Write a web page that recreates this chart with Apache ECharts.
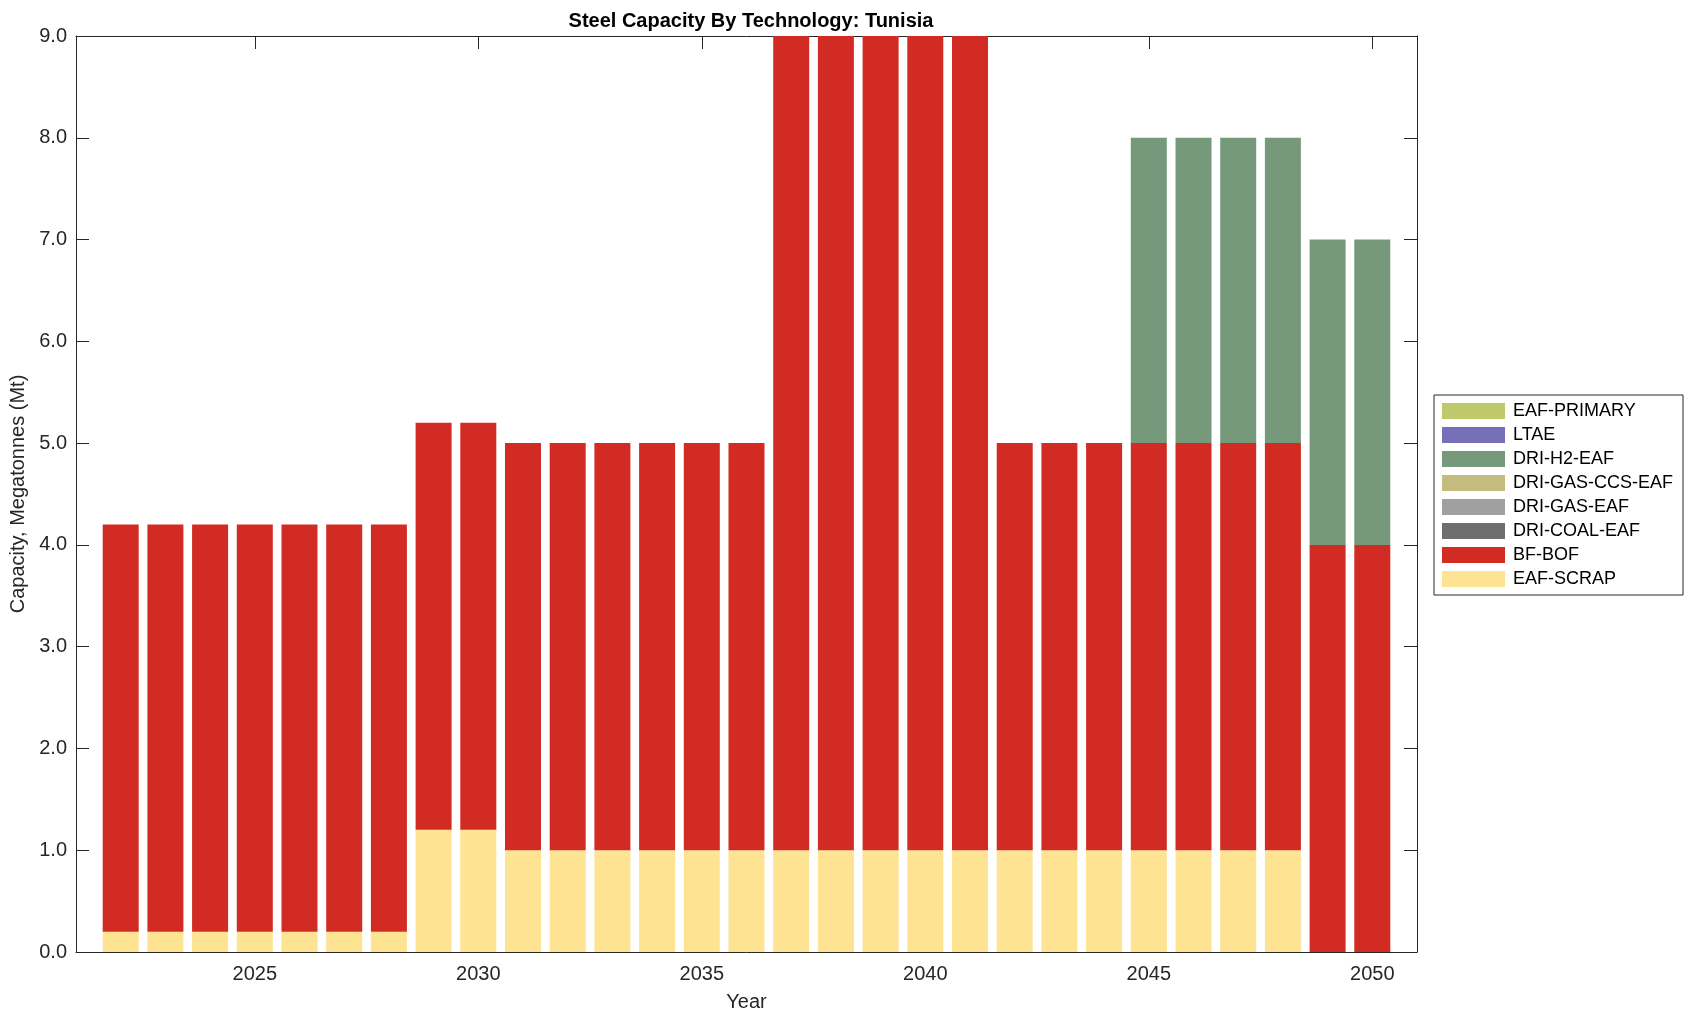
<!DOCTYPE html>
<html>
<head>
<meta charset="utf-8">
<script src="https://cdn.jsdelivr.net/npm/echarts@6/dist/echarts.min.js"></script>
<style>html,body{margin:0;padding:0;background:#fff;}#c{width:1696px;height:1021px;}</style>
</head>
<body>
<div id="c"></div>
<script>
const years = [2022,2023,2024,2025,2026,2027,2028,2029,2030,2031,2032,2033,2034,2035,2036,2037,2038,2039,2040,2041,2042,2043,2044,2045,2046,2047,2048,2049,2050];
const eafScrap   = [0.2,0.2,0.2,0.2,0.2,0.2,0.2,1.2,1.2,1,1,1,1,1,1,1,1,1,1,1,1,1,1,1,1,1,1,0,0];
const bfBof      = [4,4,4,4,4,4,4,4,4,4,4,4,4,4,4,9,9,9,9,9,4,4,4,4,4,4,4,4,4];
const driCoalEaf = [0,0,0,0,0,0,0,0,0,0,0,0,0,0,0,0,0,0,0,0,0,0,0,0,0,0,0,0,0];
const driGasEaf  = [0,0,0,0,0,0,0,0,0,0,0,0,0,0,0,0,0,0,0,0,0,0,0,0,0,0,0,0,0];
const driGasCcsEaf=[0,0,0,0,0,0,0,0,0,0,0,0,0,0,0,0,0,0,0,0,0,0,0,0,0,0,0,0,0];
const driH2Eaf   = [0,0,0,0,0,0,0,0,0,0,0,0,0,0,0,0,0,0,0,0,0,0,0,3,3,3,3,3,3];
const ltae       = [0,0,0,0,0,0,0,0,0,0,0,0,0,0,0,0,0,0,0,0,0,0,0,0,0,0,0,0,0];
const eafPrimary = [0,0,0,0,0,0,0,0,0,0,0,0,0,0,0,0,0,0,0,0,0,0,0,0,0,0,0,0,0];
const xAxisYears = [2021].concat(years, [2051]);
const xTickYears = [2025,2030,2035,2040,2045,2050];

const seriesDefs = [
  ['EAF-SCRAP', eafScrap, '#fde392'],
  ['BF-BOF', bfBof, '#d22b24'],
  ['DRI-COAL-EAF', driCoalEaf, '#6e6e6e'],
  ['DRI-GAS-EAF', driGasEaf, '#a0a0a0'],
  ['DRI-GAS-CCS-EAF', driGasCcsEaf, '#c4bb7e'],
  ['DRI-H2-EAF', driH2Eaf, '#76997c'],
  ['LTAE', ltae, '#7570b8'],
  ['EAF-PRIMARY', eafPrimary, '#bfc86a']
];
const txt = '#262626';
const font = 'Liberation Sans, Arial, Helvetica, sans-serif';
const chart = echarts.init(document.getElementById('c'), null, {renderer:'canvas'});
const axLine = {show:true, onZero:false, lineStyle:{color:txt, width:1}};
const isTick = (i, v) => xTickYears.indexOf(Number(v)) >= 0;
const xTick = {show:true, inside:true, length:13, interval:isTick, alignWithLabel:true, lineStyle:{color:txt,width:1}};
const yTick = {show:true, inside:true, length:13, lineStyle:{color:txt,width:1}};
const cats = xAxisYears.map(String);
chart.setOption({
  backgroundColor:'#fff',
  animation:false,
  textStyle:{fontFamily:font},
  title:{text:'Steel Capacity By Technology: Tunisia', left:746, top:6, textAlign:'center',
    textStyle:{fontSize:20, fontWeight:'bold', color:'#000', fontFamily:font}},
  grid:{left:76, right:279, top:36, bottom:69, containLabel:false, outerBoundsMode:'none'},
  legend:{
    orient:'vertical', left:1434, top:395, padding:[7,10,7,8],
    borderColor:'#262626', borderWidth:1, backgroundColor:'#fff',
    itemWidth:63, itemHeight:16, itemGap:6, icon:'rect',
    textStyle:{fontSize:18, color:'#000', fontFamily:font, padding:[0,0,0,3]},
    data: seriesDefs.map(s=>s[0]).reverse()
  },
  xAxis:[
    {type:'category', data:cats, boundaryGap:false, position:'bottom',
     name:'Year', nameLocation:'middle', nameGap:40,
     nameTextStyle:{fontSize:20, color:txt, fontFamily:font},
     axisLine:axLine, splitLine:{show:false},
     axisTick:xTick,
     axisLabel:{interval:isTick, fontSize:20, color:txt, margin:12, fontFamily:font}},
    {type:'category', data:cats, boundaryGap:false, position:'top',
     axisLine:axLine, splitLine:{show:false},
     axisTick:xTick,
     axisLabel:{show:false}}
  ],
  yAxis:[
    {type:'value', min:0, max:9, interval:1, position:'left',
     name:'Capacity, Megatonnes (Mt)', nameLocation:'middle', nameGap:47,
     nameTextStyle:{fontSize:20, color:txt, fontFamily:font},
     axisLine:axLine, splitLine:{show:false}, axisTick:yTick,
     axisLabel:{fontSize:20, color:txt, margin:9, fontFamily:font, formatter:v=>v.toFixed(1)}},
    {type:'value', min:0, max:9, interval:1, position:'right',
     axisLine:axLine, splitLine:{show:false}, axisTick:yTick,
     axisLabel:{show:false}}
  ],
  series: seriesDefs.map(([name, vals, color])=>({
    name:name, type:'bar', stack:'total', xAxisIndex:0, yAxisIndex:0,
    barWidth:36, clip:true,
    itemStyle:{color:color},
    data: xAxisYears.map(y=>{ const i = years.indexOf(y); return i<0 ? null : vals[i]; })
  }))
});
</script>
</body>
</html>
